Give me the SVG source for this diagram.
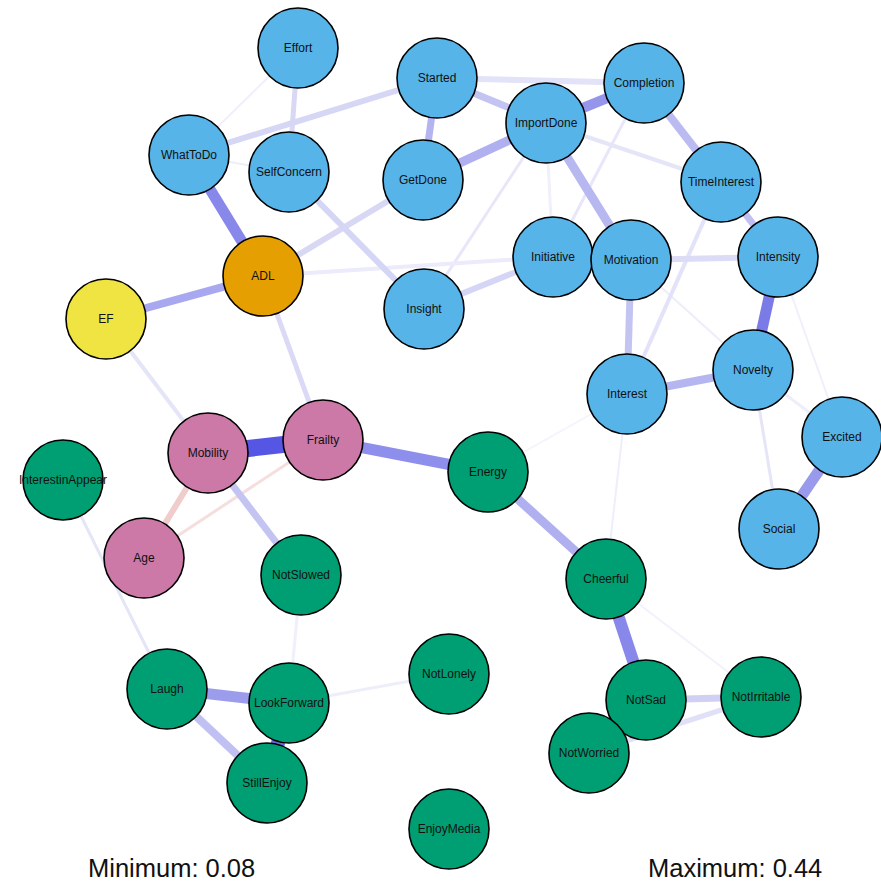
<svg xmlns="http://www.w3.org/2000/svg" width="881" height="883" viewBox="0 0 881 883">
<style>
.n circle{stroke:#000;stroke-width:1.6}
.b circle{fill:#56B4E9}.o circle{fill:#E69F00}.y circle{fill:#F0E442}.p circle{fill:#CC79A7}.g circle{fill:#009E73}
.n text{font-family:"Liberation Sans",Arial,sans-serif;font-size:12px;fill:#111;text-anchor:middle}
#edges line{stroke-linecap:butt}
.lg{font-family:"Liberation Sans",Arial,sans-serif;font-size:25.5px;fill:#111}
</style>
<rect width="881" height="883" fill="#fff"/>
<g id="edges">
<line x1="627" y1="394" x2="488" y2="472" stroke="#F4F4FD" stroke-width="2"/>
<line x1="627" y1="394" x2="606" y2="579" stroke="#EEEEFC" stroke-width="2"/>
<line x1="606" y1="579" x2="761" y2="697" stroke="#F2F2FC" stroke-width="2"/>
<line x1="298" y1="48" x2="189" y2="155" stroke="#F0F0FC" stroke-width="2"/>
<line x1="189" y1="155" x2="289" y2="172" stroke="#EEEEFB" stroke-width="2"/>
<line x1="631" y1="260" x2="753" y2="370" stroke="#EEEEFB" stroke-width="2"/>
<line x1="778" y1="257" x2="842" y2="437" stroke="#F0F0FC" stroke-width="2"/>
<line x1="753" y1="370" x2="842" y2="437" stroke="#EEEEFB" stroke-width="3"/>
<line x1="546" y1="123" x2="553" y2="257" stroke="#F0F0FC" stroke-width="3"/>
<line x1="301" y1="575" x2="289" y2="703" stroke="#F0F0FC" stroke-width="3"/>
<line x1="289" y1="703" x2="449" y2="674" stroke="#EEEEFB" stroke-width="3"/>
<line x1="753" y1="370" x2="779" y2="529" stroke="#E5E5F8" stroke-width="3"/>
<line x1="63" y1="480" x2="167" y2="689" stroke="#E5E5F8" stroke-width="3"/>
<line x1="546" y1="123" x2="424" y2="309" stroke="#E7E7F9" stroke-width="3"/>
<line x1="644" y1="83" x2="553" y2="257" stroke="#E7E7F9" stroke-width="3"/>
<line x1="323" y1="440" x2="144" y2="558" stroke="#F6DEDE" stroke-width="3"/>
<line x1="546" y1="123" x2="721" y2="182" stroke="#E5E5F8" stroke-width="4"/>
<line x1="721" y1="182" x2="627" y2="394" stroke="#E2E2F8" stroke-width="4"/>
<line x1="263" y1="276" x2="553" y2="257" stroke="#EBEBFB" stroke-width="4"/>
<line x1="106" y1="319" x2="208" y2="453" stroke="#E5E5F8" stroke-width="4"/>
<line x1="298" y1="48" x2="289" y2="172" stroke="#D8D8F5" stroke-width="5"/>
<line x1="263" y1="276" x2="323" y2="440" stroke="#DADAF6" stroke-width="5"/>
<line x1="589" y1="753" x2="761" y2="697" stroke="#E0E0F8" stroke-width="5"/>
<line x1="437" y1="78" x2="644" y2="83" stroke="#E2E2F8" stroke-width="6"/>
<line x1="189" y1="155" x2="437" y2="78" stroke="#D6D6F5" stroke-width="6"/>
<line x1="263" y1="276" x2="423" y2="180" stroke="#D8D8F5" stroke-width="6"/>
<line x1="289" y1="172" x2="424" y2="309" stroke="#D5D5F5" stroke-width="6"/>
<line x1="424" y1="309" x2="553" y2="257" stroke="#D5D5F5" stroke-width="6"/>
<line x1="631" y1="260" x2="778" y2="257" stroke="#DCDCF6" stroke-width="6"/>
<line x1="208" y1="453" x2="144" y2="558" stroke="#F0CCCC" stroke-width="6"/>
<line x1="646" y1="700" x2="761" y2="697" stroke="#D0D0F5" stroke-width="7"/>
<line x1="437" y1="78" x2="423" y2="180" stroke="#B4B4F0" stroke-width="7"/>
<line x1="437" y1="78" x2="546" y2="123" stroke="#C4C4F3" stroke-width="7"/>
<line x1="721" y1="182" x2="778" y2="257" stroke="#C0C0F2" stroke-width="7"/>
<line x1="631" y1="260" x2="627" y2="394" stroke="#C4C4F3" stroke-width="7"/>
<line x1="208" y1="453" x2="301" y2="575" stroke="#C4C4F3" stroke-width="7"/>
<line x1="644" y1="83" x2="721" y2="182" stroke="#BBBBF2" stroke-width="8"/>
<line x1="627" y1="394" x2="753" y2="370" stroke="#B5B5F0" stroke-width="8"/>
<line x1="106" y1="319" x2="263" y2="276" stroke="#A8A8F0" stroke-width="8"/>
<line x1="167" y1="689" x2="267" y2="783" stroke="#C0C0F2" stroke-width="8"/>
<line x1="423" y1="180" x2="546" y2="123" stroke="#B0B0F0" stroke-width="9"/>
<line x1="546" y1="123" x2="631" y2="260" stroke="#B8B8F0" stroke-width="9"/>
<line x1="488" y1="472" x2="606" y2="579" stroke="#B0B0F0" stroke-width="9"/>
<line x1="546" y1="123" x2="644" y2="83" stroke="#9595EB" stroke-width="10"/>
<line x1="842" y1="437" x2="779" y2="529" stroke="#9A9AEC" stroke-width="11"/>
<line x1="167" y1="689" x2="289" y2="703" stroke="#9C9CEC" stroke-width="11"/>
<line x1="323" y1="440" x2="488" y2="472" stroke="#8E8EEC" stroke-width="11"/>
<line x1="189" y1="155" x2="263" y2="276" stroke="#8888EA" stroke-width="11"/>
<line x1="778" y1="257" x2="753" y2="370" stroke="#7B7BE8" stroke-width="11"/>
<line x1="606" y1="579" x2="646" y2="700" stroke="#8888EA" stroke-width="12"/>
<line x1="208" y1="453" x2="323" y2="440" stroke="#5656E4" stroke-width="17"/>
<line x1="289" y1="703" x2="267" y2="783" stroke="#6A6AE4" stroke-width="14"/>
<line x1="553" y1="257" x2="631" y2="260" stroke="#1010D0" stroke-width="16"/>
<line x1="646" y1="700" x2="589" y2="753" stroke="#1010D0" stroke-width="16"/>
</g>
<g id="Effort" class="n b"><circle cx="298" cy="48" r="40"/><text x="298" y="52">Effort</text></g>
<g id="Started" class="n b"><circle cx="437" cy="78" r="40"/><text x="437" y="82">Started</text></g>
<g id="WhatToDo" class="n b"><circle cx="189" cy="155" r="40"/><text x="189" y="159">WhatToDo</text></g>
<g id="SelfConcern" class="n b"><circle cx="289" cy="172" r="40"/><text x="289" y="176">SelfConcern</text></g>
<g id="GetDone" class="n b"><circle cx="423" cy="180" r="40"/><text x="423" y="184">GetDone</text></g>
<g id="ImportDone" class="n b"><circle cx="546" cy="123" r="40"/><text x="546" y="127">ImportDone</text></g>
<g id="Completion" class="n b"><circle cx="644" cy="83" r="40"/><text x="644" y="87">Completion</text></g>
<g id="TimeInterest" class="n b"><circle cx="721" cy="182" r="40"/><text x="721" y="186">TimeInterest</text></g>
<g id="Initiative" class="n b"><circle cx="553" cy="257" r="40"/><text x="553" y="261">Initiative</text></g>
<g id="Motivation" class="n b"><circle cx="631" cy="260" r="40"/><text x="631" y="264">Motivation</text></g>
<g id="Intensity" class="n b"><circle cx="778" cy="257" r="40"/><text x="778" y="261">Intensity</text></g>
<g id="Insight" class="n b"><circle cx="424" cy="309" r="40"/><text x="424" y="313">Insight</text></g>
<g id="Interest" class="n b"><circle cx="627" cy="394" r="40"/><text x="627" y="398">Interest</text></g>
<g id="Novelty" class="n b"><circle cx="753" cy="370" r="40"/><text x="753" y="374">Novelty</text></g>
<g id="Excited" class="n b"><circle cx="842" cy="437" r="40"/><text x="842" y="441">Excited</text></g>
<g id="Social" class="n b"><circle cx="779" cy="529" r="40"/><text x="779" y="533">Social</text></g>
<g id="ADL" class="n o"><circle cx="263" cy="276" r="40"/><text x="263" y="280">ADL</text></g>
<g id="EF" class="n y"><circle cx="106" cy="319" r="40"/><text x="106" y="323">EF</text></g>
<g id="Mobility" class="n p"><circle cx="208" cy="453" r="40"/><text x="208" y="457">Mobility</text></g>
<g id="Frailty" class="n p"><circle cx="323" cy="440" r="40"/><text x="323" y="444">Frailty</text></g>
<g id="Age" class="n p"><circle cx="144" cy="558" r="40"/><text x="144" y="562">Age</text></g>
<g id="InterestinAppear" class="n g"><circle cx="63" cy="480" r="40"/><text x="63" y="484">InterestinAppear</text></g>
<g id="Energy" class="n g"><circle cx="488" cy="472" r="40"/><text x="488" y="476">Energy</text></g>
<g id="Cheerful" class="n g"><circle cx="606" cy="579" r="40"/><text x="606" y="583">Cheerful</text></g>
<g id="NotSlowed" class="n g"><circle cx="301" cy="575" r="40"/><text x="301" y="579">NotSlowed</text></g>
<g id="Laugh" class="n g"><circle cx="167" cy="689" r="40"/><text x="167" y="693">Laugh</text></g>
<g id="LookForward" class="n g"><circle cx="289" cy="703" r="40"/><text x="289" y="707">LookForward</text></g>
<g id="StillEnjoy" class="n g"><circle cx="267" cy="783" r="40"/><text x="267" y="787">StillEnjoy</text></g>
<g id="NotLonely" class="n g"><circle cx="449" cy="674" r="40"/><text x="449" y="678">NotLonely</text></g>
<g id="EnjoyMedia" class="n g"><circle cx="449" cy="829" r="40"/><text x="449" y="833">EnjoyMedia</text></g>
<g id="NotSad" class="n g"><circle cx="646" cy="700" r="40"/><text x="646" y="704">NotSad</text></g>
<g id="NotWorried" class="n g"><circle cx="589" cy="753" r="40"/><text x="589" y="757">NotWorried</text></g>
<g id="NotIrritable" class="n g"><circle cx="761" cy="697" r="40"/><text x="761" y="701">NotIrritable</text></g>
<text class="lg" x="88" y="877">Minimum: 0.08</text>
<text class="lg" x="648" y="877">Maximum: 0.44</text>
</svg>
